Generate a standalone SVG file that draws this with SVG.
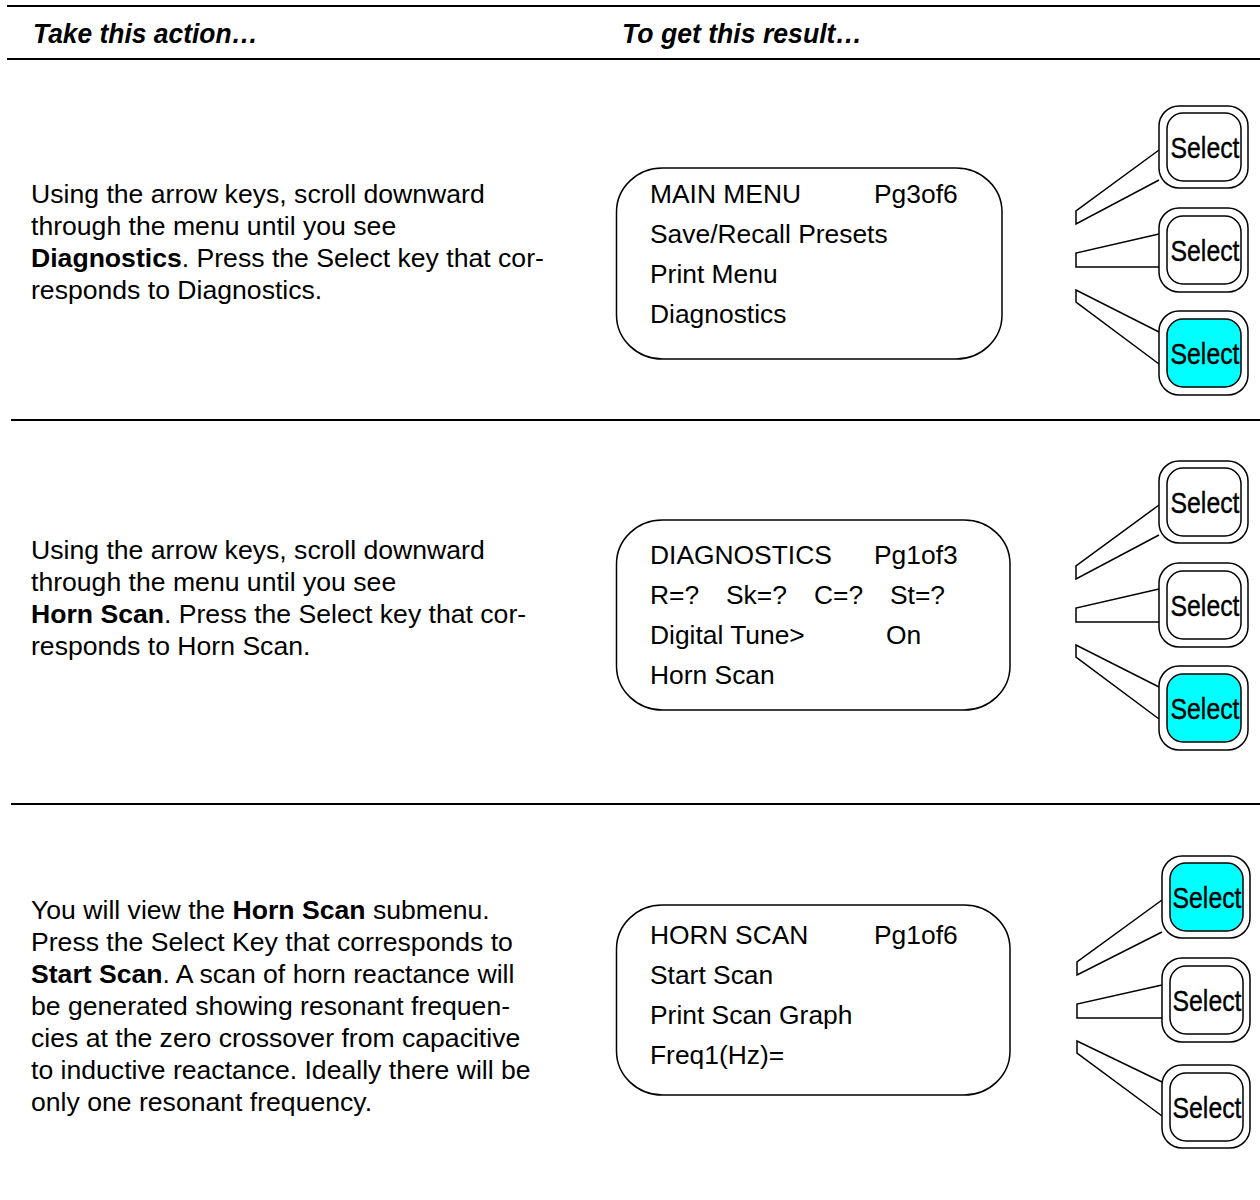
<svg xmlns="http://www.w3.org/2000/svg" width="1260" height="1200" viewBox="0 0 1260 1200">
  <style>
    .rule { stroke: #000; stroke-width: 2; fill: none; }
    .head { font-family: "Liberation Sans", Arial, sans-serif; font-size: 27px; font-weight: bold; font-style: italic; fill: #000; }
    .body { font-family: "Liberation Sans", Arial, sans-serif; font-size: 26.6px; fill: #000; }
    .b { font-weight: bold; }
    .screen { fill: #fff; stroke: #000; stroke-width: 1.5; }
    .lcd { font-family: "Liberation Sans", Arial, sans-serif; font-size: 26.4px; fill: #000; }
    .key-outer { fill: #fff; stroke: #000; stroke-width: 1.5; }
    .key-inner { fill: #fff; stroke: #000; stroke-width: 1.5; }
    .key-on { fill: #00ffff; }
    .key-label { font-family: "Liberation Sans", Arial, sans-serif; font-size: 30px; fill: #000; stroke: #000; stroke-width: 0.4; text-anchor: middle; }
    .leader { fill: #fff; stroke: #000; stroke-width: 1.5; stroke-linejoin: miter; }
  </style>

  <!-- table header and row separators -->
  <g id="table-rules">
    <line class="rule" x1="7" y1="6" x2="1260" y2="6"/>
    <line class="rule" x1="7" y1="59" x2="1260" y2="59"/>
    <line class="rule" x1="11" y1="420" x2="1260" y2="420"/>
    <line class="rule" x1="11" y1="804" x2="1260" y2="804"/>
  </g>
  <g id="table-header">
    <text class="head" x="33" y="43" textLength="225" lengthAdjust="spacingAndGlyphs">Take this action…</text>
    <text class="head" x="622" y="43" textLength="240" lengthAdjust="spacingAndGlyphs">To get this result…</text>
  </g>

  <!-- step 1: open Diagnostics -->
  <g id="step1-action">
    <text class="body" x="31" y="203">Using the arrow keys, scroll downward</text>
    <text class="body" x="31" y="235">through the menu until you see</text>
    <text class="body" x="31" y="267"><tspan class="b">Diagnostics</tspan>. Press the Select key that cor-</text>
    <text class="body" x="31" y="299">responds to Diagnostics.</text>
  </g>
  <g id="step1-screen">
    <rect class="screen" x="616.5" y="168" width="385.5" height="191" rx="46" ry="44"/>
    <text class="lcd" x="650" y="203">MAIN MENU</text>
    <text class="lcd" x="874" y="203">Pg3of6</text>
    <text class="lcd" x="650" y="243">Save/Recall Presets</text>
    <text class="lcd" x="650" y="283">Print Menu</text>
    <text class="lcd" x="650" y="323">Diagnostics</text>
  </g>
  <g id="step1-connectors">
    <polyline class="leader" points="1159,150 1076,211 1076,224 1159,180"/>
    <polyline class="leader" points="1159,234 1076,253 1076,267 1159,267"/>
    <polyline class="leader" points="1159,332 1076,290 1076,302 1159,364"/>
  </g>
  <g id="step1-key1">
    <rect class="key-outer" x="1159" y="106" width="89" height="82" rx="20"/>
    <rect class="key-inner" x="1167" y="113" width="74" height="68" rx="16"/>
    <text class="key-label" x="1205" y="158" textLength="69" lengthAdjust="spacingAndGlyphs">Select</text>
  </g>
  <g id="step1-key2">
    <rect class="key-outer" x="1159" y="208" width="89" height="84" rx="20"/>
    <rect class="key-inner" x="1167" y="216" width="74" height="68" rx="16"/>
    <text class="key-label" x="1205" y="261" textLength="69" lengthAdjust="spacingAndGlyphs">Select</text>
  </g>
  <g id="step1-key3">
    <rect class="key-outer" x="1159" y="311" width="89" height="84" rx="20"/>
    <rect class="key-inner key-on" x="1167" y="319" width="74" height="68" rx="16"/>
    <text class="key-label" x="1205" y="364" textLength="69" lengthAdjust="spacingAndGlyphs">Select</text>
  </g>

  <!-- step 2: open Horn Scan -->
  <g id="step2-action">
    <text class="body" x="31" y="559">Using the arrow keys, scroll downward</text>
    <text class="body" x="31" y="591">through the menu until you see</text>
    <text class="body" x="31" y="623"><tspan class="b">Horn Scan</tspan>. Press the Select key that cor-</text>
    <text class="body" x="31" y="655">responds to Horn Scan.</text>
  </g>
  <g id="step2-screen">
    <rect class="screen" x="616.5" y="520" width="393.5" height="190" rx="46" ry="44"/>
    <text class="lcd" x="650" y="564">DIAGNOSTICS</text>
    <text class="lcd" x="874" y="564">Pg1of3</text>
    <text class="lcd" x="650" y="604">R=?</text>
    <text class="lcd" x="726" y="604">Sk=?</text>
    <text class="lcd" x="814" y="604">C=?</text>
    <text class="lcd" x="890" y="604">St=?</text>
    <text class="lcd" x="650" y="644">Digital Tune&gt;</text>
    <text class="lcd" x="886" y="644">On</text>
    <text class="lcd" x="650" y="684">Horn Scan</text>
  </g>
  <g id="step2-connectors">
    <polyline class="leader" points="1159,505 1076,566 1076,579 1159,535"/>
    <polyline class="leader" points="1159,589 1076,608 1076,622 1159,622"/>
    <polyline class="leader" points="1159,687 1076,645 1076,657 1159,719"/>
  </g>
  <g id="step2-key1">
    <rect class="key-outer" x="1159" y="461" width="89" height="82" rx="20"/>
    <rect class="key-inner" x="1167" y="468" width="74" height="68" rx="16"/>
    <text class="key-label" x="1205" y="513" textLength="69" lengthAdjust="spacingAndGlyphs">Select</text>
  </g>
  <g id="step2-key2">
    <rect class="key-outer" x="1159" y="563" width="89" height="84" rx="20"/>
    <rect class="key-inner" x="1167" y="571" width="74" height="68" rx="16"/>
    <text class="key-label" x="1205" y="616" textLength="69" lengthAdjust="spacingAndGlyphs">Select</text>
  </g>
  <g id="step2-key3">
    <rect class="key-outer" x="1159" y="666" width="89" height="84" rx="20"/>
    <rect class="key-inner key-on" x="1167" y="674" width="74" height="68" rx="16"/>
    <text class="key-label" x="1205" y="719" textLength="69" lengthAdjust="spacingAndGlyphs">Select</text>
  </g>

  <!-- step 3: start the horn scan -->
  <g id="step3-action">
    <text class="body" x="31" y="919">You will view the <tspan class="b">Horn Scan</tspan> submenu.</text>
    <text class="body" x="31" y="951">Press the Select Key that corresponds to</text>
    <text class="body" x="31" y="983"><tspan class="b">Start Scan</tspan>. A scan of horn reactance will</text>
    <text class="body" x="31" y="1015">be generated showing resonant frequen-</text>
    <text class="body" x="31" y="1047">cies at the zero crossover from capacitive</text>
    <text class="body" x="31" y="1079">to inductive reactance. Ideally there will be</text>
    <text class="body" x="31" y="1111">only one resonant frequency.</text>
  </g>
  <g id="step3-screen">
    <rect class="screen" x="616.5" y="905" width="393.5" height="190" rx="46" ry="44"/>
    <text class="lcd" x="650" y="944">HORN SCAN</text>
    <text class="lcd" x="874" y="944">Pg1of6</text>
    <text class="lcd" x="650" y="984">Start Scan</text>
    <text class="lcd" x="650" y="1024">Print Scan Graph</text>
    <text class="lcd" x="650" y="1064">Freq1(Hz)=</text>
  </g>
  <g id="step3-connectors">
    <polyline class="leader" points="1162,900 1077,962 1077,975 1162,932"/>
    <polyline class="leader" points="1162,985 1077,1004 1077,1018 1162,1018"/>
    <polyline class="leader" points="1162,1082 1077,1041 1077,1053 1162,1116"/>
  </g>
  <g id="step3-key1">
    <rect class="key-outer" x="1162" y="856" width="88" height="82" rx="20"/>
    <rect class="key-inner key-on" x="1170" y="863" width="73" height="68" rx="16"/>
    <text class="key-label" x="1207" y="908" textLength="69" lengthAdjust="spacingAndGlyphs">Select</text>
  </g>
  <g id="step3-key2">
    <rect class="key-outer" x="1162" y="958" width="88" height="84" rx="20"/>
    <rect class="key-inner" x="1170" y="966" width="73" height="68" rx="16"/>
    <text class="key-label" x="1207" y="1011" textLength="69" lengthAdjust="spacingAndGlyphs">Select</text>
  </g>
  <g id="step3-key3">
    <rect class="key-outer" x="1162" y="1065" width="88" height="83" rx="20"/>
    <rect class="key-inner" x="1170" y="1073" width="73" height="68" rx="16"/>
    <text class="key-label" x="1207" y="1118" textLength="69" lengthAdjust="spacingAndGlyphs">Select</text>
  </g>
</svg>
